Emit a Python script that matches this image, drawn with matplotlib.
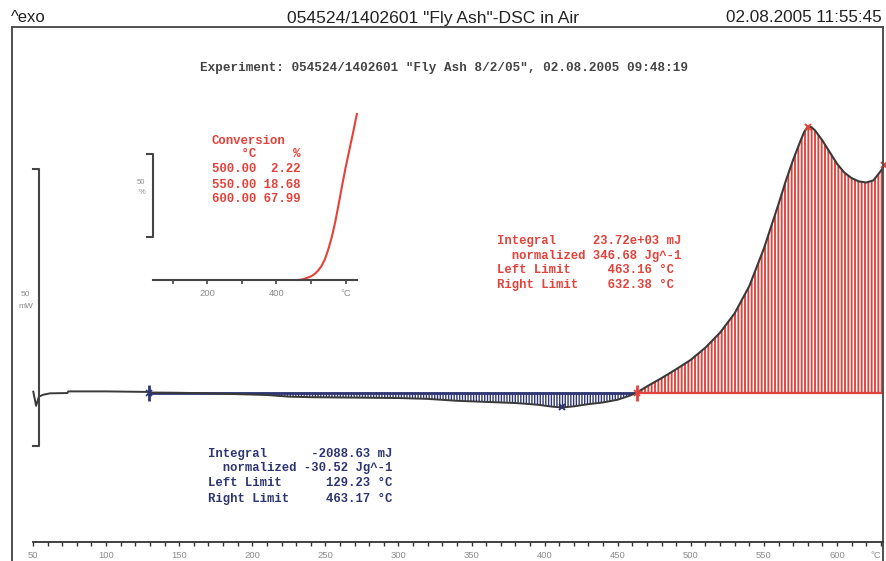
import matplotlib
matplotlib.use('Agg')
import matplotlib.pyplot as plt
from matplotlib.ticker import FixedLocator

# ---------------- data ----------------
# initial part of the DSC curve (before the first integration limit)
start_T = [50.2, 52.1, 54.0, 57.0, 61.6, 73.5, 74.2, 100.0, 129.23]
start_mW = [0.15, -2.4, -0.75, -0.4, -0.15, -0.1, 0.2, 0.2, 0.1]

# endothermic region (blue integral, 129.23 .. 463.17 degC)
endo_T = [129.23, 150, 170, 190, 210, 225, 240, 260, 280, 300, 320, 340,
          360, 380, 395, 405, 412, 420, 430, 440, 450, 458, 463.17]
endo_mW = [0.0, -0.05, -0.15, -0.3, -0.45, -0.75, -0.85, -0.9, -0.95, -1.0,
           -1.15, -1.5, -1.7, -1.9, -2.2, -2.55, -2.7, -2.5, -2.1, -1.8,
           -1.3, -0.6, 0.0]

# exothermic region (red integral, 463.16 .. 632.38 degC)
exo_T = [463.16, 470, 480, 490, 500, 510, 520, 530, 540, 550, 560, 565, 570,
         575, 577.5, 580, 582.5, 585, 590, 595, 600, 605, 610, 615, 620, 625,
         630, 632.38]
exo_mW = [0.0, 1.1, 2.6, 4.2, 5.9, 8.1, 10.8, 14.3, 19.2, 26.0, 34.0, 38.2,
          42.0, 45.4, 47.0, 47.9, 47.9, 47.3, 45.5, 43.4, 41.3, 39.7, 38.7,
          38.1, 37.9, 38.3, 40.0, 41.0]

peak_T, peak_mW = 580.5, 48.0
min_T, min_mW = 412.0, -2.7

# conversion inset
conv_T = [463.16, 470, 480, 490, 500, 510, 520, 530, 540, 550, 560, 570,
          580, 590, 600, 610, 620, 632.38]
conv_pct = [0.0, 0.2, 0.7, 1.4, 2.22, 3.6, 5.6, 8.4, 12.5, 18.68, 26.0, 35.2,
            46.0, 57.3, 67.99, 77.8, 87.4, 100.0]

main_ticks = [50, 100, 150, 200, 250, 300, 350, 400, 450, 500, 550, 600]
minor_ticks = [t for t in range(60, 640, 10)]
inset_ticks = [100, 200, 300, 400, 500, 600]
inset_labels = ['', '200', '', '400', '', '°C']

title = '054524/1402601 "Fly Ash"-DSC in Air'
date_text = '02.08.2005 11:55:45'
experiment = 'Experiment: 054524/1402601 "Fly Ash 8/2/05", 02.08.2005 09:48:19'

conv_lines = ['Conversion', '    °C     %', '500.00  2.22', '550.00 18.68',
              '600.00 67.99']
exo_lines = ['Integral     23.72e+03 mJ', '  normalized 346.68 Jg^-1',
             'Left Limit     463.16 °C', 'Right Limit    632.38 °C']
endo_lines = ['Integral      -2088.63 mJ', '  normalized -30.52 Jg^-1',
              'Left Limit      129.23 °C', 'Right Limit     463.17 °C']

# ---------------- style ----------------
RED = '#e4413a'
NAVY = '#2d3572'
CURVE = '#3a3a3a'
FRAME = '#505050'
GRAY = '#8c8c8c'
MONO = 'Liberation Mono'
SANS = 'Liberation Sans'

W, H = 886, 561
fig = plt.figure(figsize=(W / 100, H / 100), dpi=100)


def fx(x):
    return x / W


def fy(y):
    return 1 - y / H


# ---------------- main axes ----------------
frame_l, frame_r, frame_t = 12, 883, 27
x50, px_per_C = 33.0, 1.4618
base_px, px_per_mW = 392.5, 5.54


def T_at(x):
    return 50 + (x - x50) / px_per_C


def mW_at(y):
    return (base_px - y) / px_per_mW


ax = fig.add_axes([fx(frame_l), 0, fx(frame_r) - fx(frame_l), fy(frame_t)])
ax.set_xlim(T_at(frame_l), T_at(frame_r))
ax.set_ylim(mW_at(H), mW_at(frame_t))

for s in ['top', 'left', 'right']:
    ax.spines[s].set_color(FRAME)
    ax.spines[s].set_linewidth(1.4)
ax.spines['bottom'].set_position(('data', mW_at(542)))
ax.spines['bottom'].set_bounds(50, T_at(frame_r))
ax.spines['bottom'].set_color('#333333')
ax.spines['bottom'].set_linewidth(1.3)
ax.xaxis.set_major_locator(FixedLocator(main_ticks))
ax.xaxis.set_minor_locator(FixedLocator(minor_ticks))
ax.tick_params(axis='x', which='both', direction='out', length=3.2, width=1.0,
               color='#333333')
ax.tick_params(axis='x', which='major', labelsize=6.8, labelcolor=GRAY, pad=3.2)
ax.set_yticks([])
for lab in ax.get_xticklabels():
    lab.set_family(SANS)
ax.text(T_at(876), mW_at(555.5), '°C', fontsize=6.8, color=GRAY, ha='center',
        va='center', family=SANS)

# hatched integral areas
plt.rcParams['hatch.linewidth'] = 1.35
red_fill = ax.fill_between(exo_T, 0, exo_mW, facecolor='none', edgecolor=RED,
                           hatch='|||||', linewidth=0)
plt.rcParams['hatch.linewidth'] = 1.0
blue_fill = ax.fill_between(endo_T, 0, endo_mW, facecolor='none',
                            edgecolor=NAVY, hatch='||||||', linewidth=0)
try:
    red_fill.set_hatch_linewidth(1.35)
    blue_fill.set_hatch_linewidth(1.0)
except AttributeError:
    pass
ax.plot([endo_T[0], endo_T[-1]], [0, 0], color=NAVY, lw=2.0)
ax.plot([exo_T[0], exo_T[-1]], [0, 0], color=RED, lw=1.6)

# curve
ax.plot(start_T, start_mW, color=CURVE, lw=1.4)
ax.plot(endo_T, endo_mW, color=CURVE, lw=1.4)
ax.plot(exo_T, exo_mW, color=CURVE, lw=1.5, clip_on=False)

# markers
ax.plot(endo_T[0], endo_mW[0], marker='|', ms=11, mew=2, color=NAVY)
ax.plot(endo_T[0], endo_mW[0], marker='x', ms=4, mew=1.2, color=NAVY)
ax.plot(exo_T[0], exo_mW[0], marker='|', ms=11, mew=2, color=RED)
ax.plot(exo_T[0], exo_mW[0], marker='x', ms=4, mew=1.2, color=RED)
ax.plot(peak_T, peak_mW, marker='x', ms=5, mew=1.4, color=RED)
ax.plot(min_T, min_mW, marker='x', ms=5, mew=1.4, color=NAVY)
ax.plot(exo_T[-1], exo_mW[-1], marker='x', ms=5, mew=1.4, color=RED,
        clip_on=False)

# 50 mW scale bar
scale_top, scale_len = 40.3, 50
ax.plot([50, 54.1, 54.1, 50], [scale_top, scale_top, scale_top - scale_len,
                               scale_top - scale_len], color='#444444', lw=1.5)
fig.text(fx(25), fy(294), '50', fontsize=6, color=GRAY, ha='center',
         va='center', family=SANS)
fig.text(fx(26), fy(307), 'mW', fontsize=6, color=GRAY, ha='center',
         va='center', family=SANS)

# ---------------- inset (conversion) ----------------
ax2 = fig.add_axes([fx(153.3), fy(280), fx(357) - fx(153.3), (280 - 110) / H])
ax2.set_xlim(43.9, 632.7)
ax2.set_ylim(0, 102.4)
ax2.patch.set_alpha(0)
for s in ['top', 'left', 'right']:
    ax2.spines[s].set_visible(False)
ax2.spines['bottom'].set_color('#444444')
ax2.spines['bottom'].set_linewidth(1.5)
ax2.set_xticks(inset_ticks)
ax2.set_xticklabels(inset_labels, family=SANS)
ax2.tick_params(axis='x', direction='out', length=3.2, width=1.2,
                color='#444444', labelsize=6.8, labelcolor=GRAY, pad=3.5)
ax2.set_yticks([])
ax2.plot(conv_T, conv_pct, color=RED, lw=1.5, clip_on=False)
ax2.plot([24.9, 43.9, 43.9, 24.9], [75.9, 75.9, 25.9, 25.9], color='#444444',
         lw=1.5, clip_on=False)
fig.text(fx(141), fy(182), '50', fontsize=5.5, color=GRAY, ha='center',
         va='center', family=SANS)
fig.text(fx(142), fy(193), '%', fontsize=5.5, color=GRAY, ha='center',
         va='center', family=SANS)

# ---------------- texts ----------------
fig.text(fx(11), fy(18), '^exo', fontsize=12, color='#222222', ha='left',
         va='center', family=SANS)
fig.text(fx(433), fy(18), title, fontsize=12.6, color='#222222', ha='center',
         va='center', family=SANS)
fig.text(fx(882), fy(18), date_text, fontsize=12.3, color='#222222',
         ha='right', va='center', family=SANS)
fig.text(fx(200), fy(67.5), experiment, fontsize=9.1, color='#444444',
         ha='left', va='center', family=MONO, fontweight='bold')

conv_y = [141, 153.5, 169, 184.5, 199]
for line, yy in zip(conv_lines, conv_y):
    fig.text(fx(211.5), fy(yy), line, fontsize=8.9, color=RED, ha='left',
             va='center', family=MONO, fontweight='bold')

exo_y = [241, 255.5, 270, 284.5]
for line, yy in zip(exo_lines, exo_y):
    fig.text(fx(497), fy(yy), line, fontsize=8.8, color=RED, ha='left',
             va='center', family=MONO, fontweight='bold')

endo_y = [454, 468.5, 483.5, 498.5]
for line, yy in zip(endo_lines, endo_y):
    fig.text(fx(208), fy(yy), line, fontsize=8.8, color=NAVY, ha='left',
             va='center', family=MONO, fontweight='bold')

fig.savefig('out.png', dpi=100)
